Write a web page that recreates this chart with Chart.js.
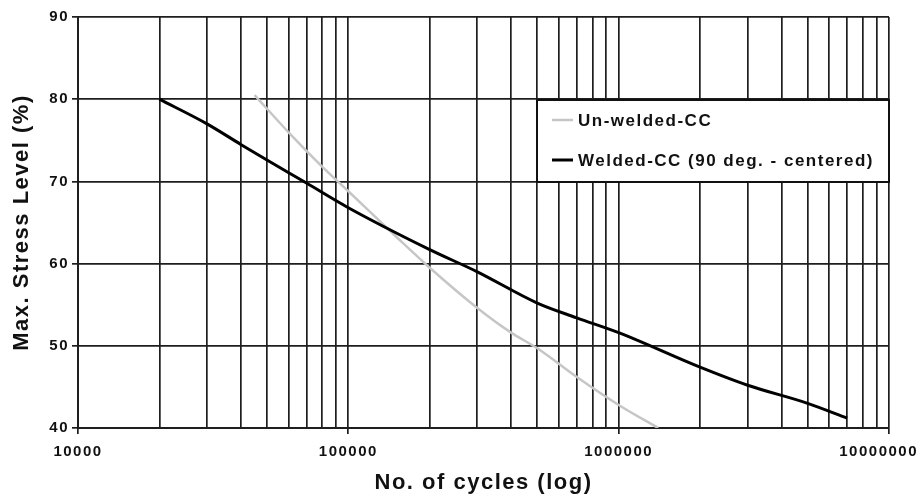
<!DOCTYPE html>
<html>
<head>
<meta charset="utf-8">
<script src="https://cdn.jsdelivr.net/npm/chart.js@4/dist/chart.umd.min.js"></script>
<style>
  html, body { margin: 0; padding: 0; background: #fff; }
  #wrap { width: 919px; height: 497px; }
</style>
</head>
<body>
<div id="wrap"><canvas id="c" width="919" height="497"></canvas></div>
<script>
// ---- data ----
const seriesNames = ['Un-welded-CC', 'Welded-CC (90 deg. - centered)'];

const unweldedCycles = [45000, 60000, 80000, 100000, 150000, 200000, 300000, 400000, 500000, 700000, 1000000, 1400000];
const unweldedStress = [80.5, 76.0, 71.8, 68.8, 63.3, 59.5, 54.6, 51.6, 49.7, 46.2, 42.8, 40.0];

const weldedCycles = [20000, 30000, 40000, 50000, 70000, 100000, 200000, 300000, 500000, 700000, 1000000, 2000000, 3000000, 5000000, 7000000];
const weldedStress = [80.0, 77.0, 74.5, 72.6, 69.8, 66.8, 61.7, 59.0, 55.2, 53.4, 51.6, 47.4, 45.2, 43.0, 41.2];

const xDecadeLabels = ['10000', '100000', '1000000', '10000000'];
const xMinorMultipliers = [1, 2, 3, 4, 5, 6, 7, 8, 9];
const yTickLabels = ['40', '50', '60', '70', '80', '90'];

const xAxisTitle = 'No. of cycles (log)';
const yAxisTitle = 'Max. Stress Level (%)';

// ---- build tick values ----
const decadeValues = xDecadeLabels.map(Number);
const xTickValues = [];
decadeValues.forEach((d, i) => {
  if (i < decadeValues.length - 1) {
    xMinorMultipliers.forEach(m => xTickValues.push(d * m));
  } else {
    xTickValues.push(d);
  }
});

const toPoints = (xs, ys) => xs.map((x, i) => ({ x: x, y: ys[i] }));

const FONT = "'Liberation Sans', Arial, Helvetica, sans-serif";
const GRID = '#1e1e1e';
const SPACING = '1.5px';

const spacingPlugin = {
  id: 'spacing',
  beforeUpdate(chart) { chart.ctx.letterSpacing = SPACING; },
  beforeLayout(chart) { chart.ctx.letterSpacing = SPACING; },
  beforeDraw(chart) {
    chart.ctx.letterSpacing = SPACING;
    // keep the last x label inside the canvas (right-aligned to the edge)
    const xs = chart.scales.x;
    const items = xs.getLabelItems();
    for (let i = items.length - 1; i >= 0; i--) {
      if (items[i].label !== '') {
        items[i].options.textAlign = 'right';
        items[i].options.translation[0] = chart.width - 1;
        break;
      }
    }
  }
};

const legendBox = {
  id: 'legendBox',
  afterDraw(chart) {
    const { ctx, chartArea } = chart;
    const w = 352, h = 82;
    const x0 = chartArea.right - w, y0 = chartArea.top + 83;
    ctx.save();
    ctx.letterSpacing = SPACING;
    ctx.fillStyle = '#ffffff';
    ctx.fillRect(x0, y0, w, h);
    ctx.lineWidth = 2;
    ctx.strokeStyle = '#111111';
    ctx.strokeRect(x0, y0, w, h);
    ctx.font = 'bold 17px ' + FONT;
    ctx.textBaseline = 'middle';
    ctx.textAlign = 'left';
    const rows = [y0 + 20, y0 + 60];
    chart.data.datasets.forEach((ds, i) => {
      const yy = rows[i];
      ctx.beginPath();
      ctx.strokeStyle = ds.borderColor;
      ctx.lineWidth = ds.borderWidth;
      ctx.moveTo(x0 + 15, yy);
      ctx.lineTo(x0 + 36, yy);
      ctx.stroke();
      ctx.fillStyle = '#111111';
      ctx.fillText(ds.label, x0 + 41, yy + 1);
    });
    ctx.restore();
  }
};

new Chart(document.getElementById('c'), {
  type: 'scatter',
  data: {
    datasets: [
      {
        label: seriesNames[0],
        data: toPoints(unweldedCycles, unweldedStress),
        showLine: true,
        borderColor: '#c6c6c6',
        backgroundColor: '#c6c6c6',
        borderWidth: 2.5,
        pointRadius: 0,
        cubicInterpolationMode: 'monotone',
        order: 1
      },
      {
        label: seriesNames[1],
        data: toPoints(weldedCycles, weldedStress),
        showLine: true,
        borderColor: '#000000',
        backgroundColor: '#000000',
        borderWidth: 3,
        pointRadius: 0,
        cubicInterpolationMode: 'monotone',
        order: 0
      }
    ]
  },
  options: {
    responsive: false,
    animation: false,
    devicePixelRatio: 1,
    layout: { padding: { top: 17, right: 30, left: 0, bottom: 0 } },
    plugins: {
      legend: { display: false },
      tooltip: { enabled: false }
    },
    scales: {
      x: {
        type: 'logarithmic',
        min: decadeValues[0],
        max: decadeValues[decadeValues.length - 1],
        afterBuildTicks(scale) {
          scale.ticks = xTickValues.map(v => ({ value: v, major: decadeValues.includes(v) }));
        },
        afterFit(scale) {
          scale.height = 69;
          scale.paddingLeft = 0;
          scale.paddingRight = 0;
        },
        ticks: {
          autoSkip: false,
          maxRotation: 0,
          minRotation: 0,
          padding: 9,
          color: '#111111',
          font: { family: FONT, size: 15, weight: 'bold' },
          callback(value) {
            const idx = decadeValues.indexOf(value);
            return idx >= 0 ? xDecadeLabels[idx] : '';
          }
        },
        grid: {
          color: GRID,
          lineWidth: 1.7,
          drawTicks: true,
          tickLength: 6,
          tickColor(ctx) {
            return ctx.tick && decadeValues.includes(ctx.tick.value) ? GRID : 'rgba(0,0,0,0)';
          }
        },
        border: { display: true, color: GRID, width: 2 },
        title: {
          display: true,
          text: xAxisTitle,
          color: '#111111',
          font: { family: FONT, size: 22, weight: 'bold' },
          padding: { top: 0, bottom: 1 }
        }
      },
      y: {
        type: 'linear',
        min: Number(yTickLabels[0]),
        max: Number(yTickLabels[yTickLabels.length - 1]),
        afterFit(scale) {
          scale.width = 78;
          scale.paddingTop = 0;
          scale.paddingBottom = 0;
        },
        ticks: {
          stepSize: 10,
          padding: 3,
          color: '#111111',
          font: { family: FONT, size: 15, weight: 'bold' },
          callback(value) {
            const s = String(value);
            return yTickLabels.includes(s) ? s : '';
          }
        },
        grid: {
          color: GRID,
          lineWidth: 1.7,
          drawTicks: true,
          tickLength: 6,
          tickColor: GRID
        },
        border: { display: true, color: GRID, width: 2 },
        title: {
          display: true,
          text: yAxisTitle,
          color: '#111111',
          font: { family: FONT, size: 22, weight: 'bold' },
          padding: { top: 9, bottom: 0 }
        }
      }
    }
  },
  plugins: [spacingPlugin, legendBox]
});
</script>
</body>
</html>
